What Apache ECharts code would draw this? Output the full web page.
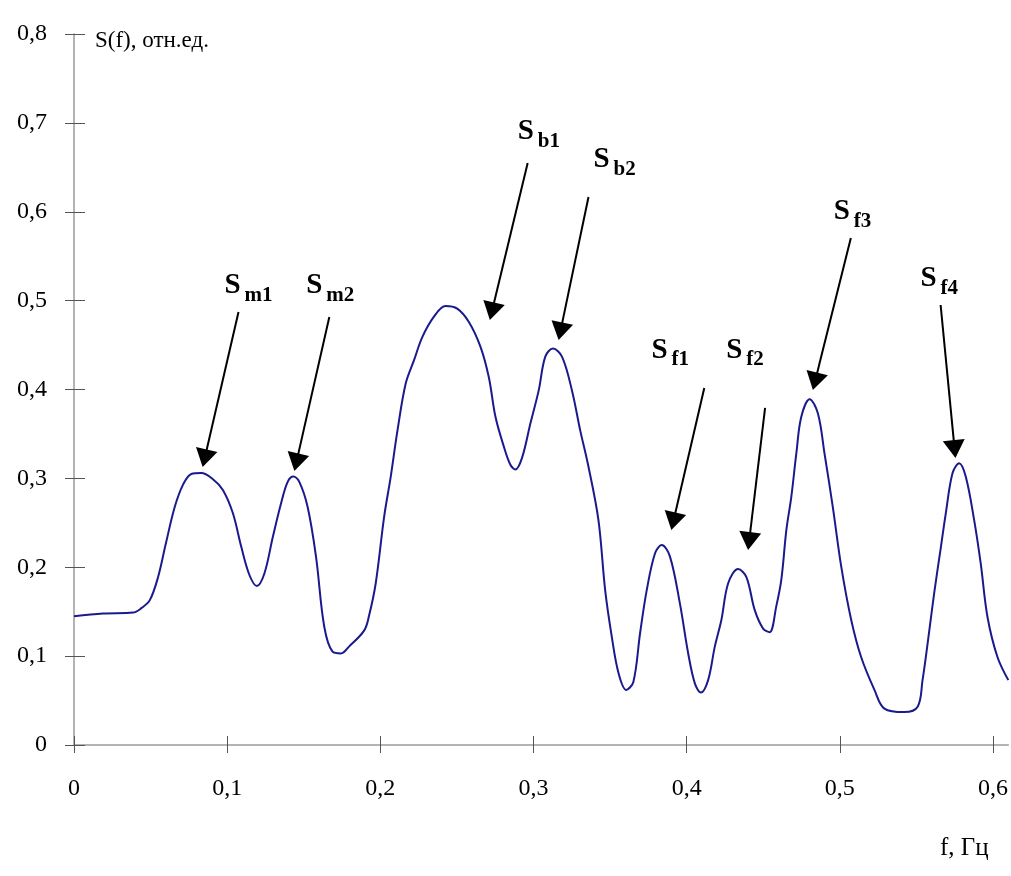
<!DOCTYPE html>
<html>
<head>
<meta charset="utf-8">
<script src="https://cdn.jsdelivr.net/npm/echarts@6.0.0/dist/echarts.min.js"></script>
<style>
  html, body { margin: 0; padding: 0; background: #fff; }
  #chart { width: 1011px; height: 876px; }
</style>
</head>
<body>
<div id="chart"></div>
<script>
// ---- data ----
const freqs = [0, 0.019, 0.0386, 0.044, 0.0495, 0.0549, 0.060, 0.0658, 0.0712, 0.0766,
  0.0831, 0.0907, 0.0972, 0.1037, 0.1092, 0.1146, 0.1194, 0.1243, 0.1298, 0.1352,
  0.1395, 0.1432, 0.1471, 0.1525, 0.158, 0.1634, 0.1688, 0.1743, 0.1797, 0.1895,
  0.1927, 0.197, 0.2025, 0.2068, 0.2112, 0.2166, 0.222, 0.2274, 0.235, 0.2426,
  0.2502, 0.2578, 0.2654, 0.2708, 0.2752, 0.2806, 0.285, 0.2882, 0.2925, 0.298,
  0.3034, 0.3077, 0.3127, 0.3186, 0.3251, 0.3305, 0.3359, 0.3424, 0.3468, 0.3511,
  0.3555, 0.3605, 0.3652, 0.3696, 0.3739, 0.3794, 0.3837, 0.3891, 0.3956, 0.401,
  0.4054, 0.4093, 0.414, 0.4184, 0.4227, 0.4271, 0.4336, 0.439, 0.4444, 0.4499,
  0.4542, 0.4585, 0.4618, 0.4651, 0.4683, 0.4716, 0.4748, 0.4803, 0.4857, 0.49,
  0.4954, 0.5009, 0.5074, 0.5139, 0.5226, 0.5291, 0.5421, 0.5508, 0.554, 0.5573,
  0.5616, 0.566, 0.5692, 0.5736, 0.5779, 0.5822, 0.5877, 0.592, 0.5964, 0.6029, 0.61];
const spectrum = [0.145, 0.148, 0.149, 0.154, 0.163, 0.189, 0.227, 0.268, 0.293, 0.305,
  0.306, 0.299, 0.287, 0.261, 0.223, 0.191, 0.179, 0.193, 0.234, 0.272,
  0.296, 0.302, 0.296, 0.268, 0.212, 0.133, 0.105, 0.103, 0.111, 0.129,
  0.146, 0.182, 0.257, 0.302, 0.354, 0.407, 0.433, 0.459, 0.482, 0.494,
  0.491, 0.476, 0.448, 0.414, 0.369, 0.336, 0.315, 0.310, 0.323, 0.362,
  0.399, 0.437, 0.446, 0.437, 0.399, 0.354, 0.313, 0.253, 0.174, 0.122,
  0.081, 0.062, 0.071, 0.126, 0.174, 0.216, 0.225, 0.212, 0.159, 0.103,
  0.069, 0.059, 0.073, 0.111, 0.141, 0.182, 0.198, 0.189, 0.152, 0.131,
  0.127, 0.156, 0.186, 0.242, 0.279, 0.328, 0.369, 0.389, 0.373, 0.328,
  0.268, 0.201, 0.141, 0.099, 0.062, 0.041, 0.037, 0.043, 0.073, 0.114,
  0.171, 0.223, 0.261, 0.306, 0.317, 0.302, 0.253, 0.204, 0.144, 0.099, 0.073];

// annotation labels (subscripts) and their positions in data units
const peakSubs   = ['m1', 'm2', 'b1', 'b2', 'f1', 'f2', 'f3', 'f4'];
const labelF     = [0.0983, 0.1517, 0.2897, 0.3392, 0.3770, 0.4258, 0.4961, 0.5527];
const labelV     = [0.5165, 0.5165, 0.6903, 0.6588, 0.4444, 0.4444, 0.6003, 0.5249];
const arrowFromF = [0.1074, 0.1667, 0.2962, 0.3359, 0.4115, 0.4512, 0.5072, 0.5658];
const arrowFromV = [0.4872, 0.4816, 0.6548, 0.6166, 0.4017, 0.3792, 0.5705, 0.4951];
const arrowToF   = [0.0840, 0.1439, 0.2715, 0.3164, 0.3900, 0.4401, 0.4824, 0.5755];
const arrowToV   = [0.3128, 0.3083, 0.4782, 0.4557, 0.2419, 0.2194, 0.3994, 0.3229];

const yTickValues = [0, 0.1, 0.2, 0.3, 0.4, 0.5, 0.6, 0.7, 0.8];
const xTickValues = [0, 0.1, 0.2, 0.3, 0.4, 0.5, 0.6];
const xRange = [0, 0.61];
const yRange = [0, 0.8];
const yTitle = 'S(f), отн.ед.';
const xTitle = 'f, Гц';

// ---- chart ----
const SERIF = '"Liberation Serif", "DejaVu Serif", serif';
const fmt = v => String(Math.round(v * 10) / 10).replace('.', ',');

const lineData = freqs.map((f, i) => [f, spectrum[i]]);
const annData = peakSubs.map((s, i) => [arrowFromF[i], arrowFromV[i], arrowToF[i], arrowToV[i], labelF[i], labelV[i]]);

const chart = echarts.init(document.getElementById('chart'), null, { renderer: 'canvas' });
const axisGray = '#9a9a9a';
const tickGray = '#555';

function xAxisDef(inside, showLine, showLabel, len) {
  return {
    type: 'value', position: 'bottom', min: xRange[0], max: xRange[1], interval: 0.1,
    axisLine: { show: showLine, lineStyle: { color: axisGray, width: 1.5 } },
    axisTick: { show: true, inside: inside, length: len, customValues: xTickValues, lineStyle: { color: tickGray, width: 1 } },
    axisLabel: { show: showLabel, customValues: xTickValues, margin: 32, formatter: fmt, color: '#000', fontFamily: SERIF, fontSize: 24 },
    splitLine: { show: false }
  };
}
function yAxisDef(inside, showLine, showLabel, len) {
  return {
    type: 'value', position: 'left', min: yRange[0], max: yRange[1], interval: 0.1,
    axisLine: { show: showLine, lineStyle: { color: axisGray, width: 1.5 } },
    axisTick: { show: true, inside: inside, length: len, customValues: yTickValues, lineStyle: { color: tickGray, width: 1 } },
    axisLabel: { show: showLabel, customValues: yTickValues, margin: 27, formatter: fmt, color: '#000', fontFamily: SERIF, fontSize: 24 },
    splitLine: { show: false }
  };
}

chart.setOption({
  animation: false,
  backgroundColor: '#ffffff',
  grid: { left: 74, right: 0, top: 34, bottom: 131, containLabel: false },
  xAxis: [xAxisDef(false, true, true, 8), xAxisDef(true, false, false, 9)],
  yAxis: [yAxisDef(false, true, true, 9), yAxisDef(true, false, false, 11)],
  graphic: [
    { type: 'text', left: 95, top: 29, style: { text: yTitle, fill: '#000', font: '23px ' + SERIF } },
    { type: 'text', left: 940, top: 836, style: { text: xTitle, fill: '#000', font: '25px ' + SERIF } }
  ],
  series: [
    {
      type: 'line', data: lineData, xAxisIndex: 0, yAxisIndex: 0,
      showSymbol: false, smooth: 0.35,
      lineStyle: { color: '#1a1a8e', width: 2 },
      silent: true
    },
    {
      type: 'custom', xAxisIndex: 0, yAxisIndex: 0, data: annData, silent: true,
      encode: { x: [0, 2, 4], y: [1, 3, 5] },
      renderItem: function (params, api) {
        const s = api.coord([api.value(0), api.value(1)]);
        const t = api.coord([api.value(2), api.value(3)]);
        const l = api.coord([api.value(4), api.value(5)]);
        const dx = t[0] - s[0], dy = t[1] - s[1];
        const len = Math.sqrt(dx * dx + dy * dy);
        const ux = dx / len, uy = dy / len;
        const nx = -uy, ny = ux;
        const headLen = 18, halfW = 11;
        const bx = t[0] - ux * headLen, by = t[1] - uy * headLen;
        const sub = peakSubs[params.dataIndex];
        return {
          type: 'group',
          children: [
            { type: 'line', shape: { x1: s[0], y1: s[1], x2: bx + ux * 2, y2: by + uy * 2 },
              style: { stroke: '#000', lineWidth: 2 } },
            { type: 'polygon', shape: { points: [[t[0], t[1]], [bx + nx * halfW, by + ny * halfW], [bx - nx * halfW, by - ny * halfW]] },
              style: { fill: '#000' } },
            { type: 'text', x: l[0], y: l[1],
              style: { text: 'S', fill: '#000', font: 'bold 29px ' + SERIF, align: 'left', verticalAlign: 'middle' } },
            { type: 'text', x: l[0] + 20, y: l[1] + 10,
              style: { text: sub, fill: '#000', font: 'bold 21px ' + SERIF, align: 'left', verticalAlign: 'middle' } }
          ]
        };
      }
    }
  ]
});
</script>
</body>
</html>
